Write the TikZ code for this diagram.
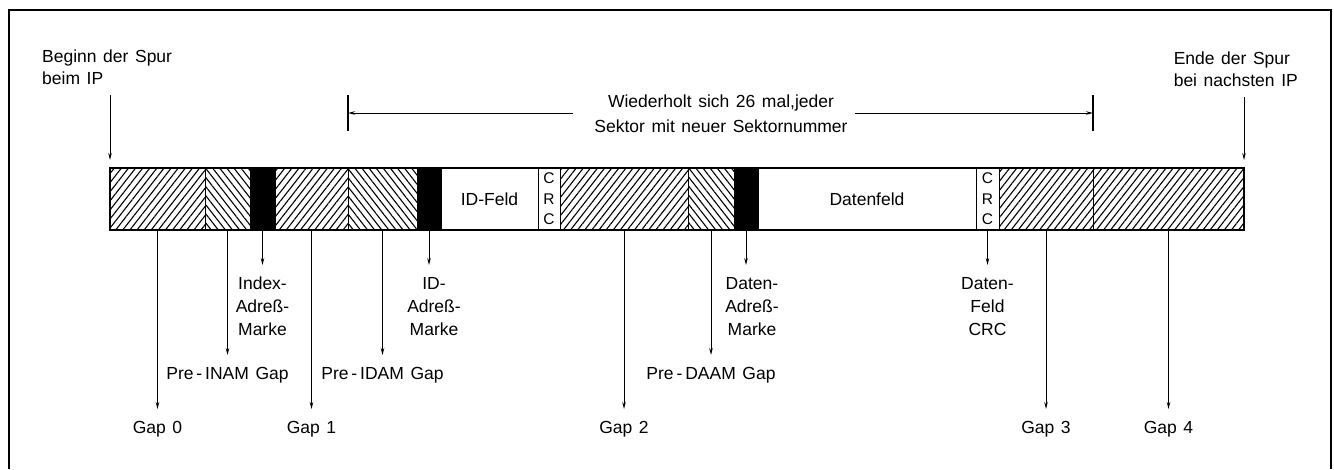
\documentclass[tikz,border=0pt]{standalone}
\usepackage{fontspec}
\setmainfont{Liberation Sans}[WordSpace=1.35]
\usetikzlibrary{patterns.meta,arrows.meta}
\begin{document}
\begin{tikzpicture}[x=1pt,y=-1pt,
  seg/.style={draw=black, line width=1pt, minimum height=62pt, inner sep=0pt, outer sep=0pt, anchor=north west},
  fwd/.style={seg, pattern={Lines[angle=52,distance=5.6pt,line width=1.1pt]}},
  bwd/.style={seg, pattern={Lines[angle=-52,distance=5.6pt,line width=1.1pt]}},
  blk/.style={seg, fill=black},
  wht/.style={seg, fill=white, font=\fontsize{17.5}{20}\selectfont},
  crc/.style={seg, fill=white, align=center, font=\fontsize{15.5}{20.5}\selectfont},
  lbl/.style={font=\fontsize{17.5}{23}\selectfont, inner sep=0pt, align=center, anchor=north},
  arr/.style={-{Stealth[length=7pt,width=3.5pt]}, line width=0.9pt},
  tick/.style={line width=1.4pt},
]
\useasboundingbox (0,0) rectangle (1334,469);
\draw[line width=1.6pt] (9,469) -- (9,10) -- (1331,10) -- (1331,469);

% track segments
\node[fwd, minimum width=95pt] (g0) at (110,168) {};
\node[bwd, minimum width=45pt] (pinam) at (g0.north east) {};
\node[blk, minimum width=25pt] (iam) at (pinam.north east) {};
\node[fwd, minimum width=73pt] (g1) at (iam.north east) {};
\node[bwd, minimum width=69pt] (pidam) at (g1.north east) {};
\node[blk, minimum width=24pt] (idam) at (pidam.north east) {};
\node[wht, minimum width=97pt] (idf) at (idam.north east) {ID-Feld};
\node[crc, minimum width=22pt] (crc1) at (idf.north east) {C\\R\\C};
\node[fwd, minimum width=128pt] (g2) at (crc1.north east) {};
\node[bwd, minimum width=46pt] (pdaam) at (g2.north east) {};
\node[blk, minimum width=24pt] (dam) at (pdaam.north east) {};
\node[wht, minimum width=218pt] (df) at (dam.north east) {Datenfeld};
\node[crc, minimum width=23pt] (crc2) at (df.north east) {C\\R\\C};
\node[fwd, minimum width=94pt] (g3) at (crc2.north east) {};
\node[fwd, minimum width=151pt] (g4) at (g3.north east) {};
\draw[line width=2pt] (g0.north west) rectangle (g4.south east);

% rows for labels
\coordinate (rowA) at (0,277);
\coordinate (rowB) at (0,367);
\coordinate (rowC) at (0,421);

% labels below
\node[lbl] (lgap0) at (g0.south |- rowC) {Gap 0};
\node[lbl] (lpinam) at (pinam.south |- rowB) {Pre\,-\,INAM Gap};
\node[lbl] (liam) at (iam.south |- rowA) {Index-\\Adreß-\\Marke};
\node[lbl] (lgap1) at (g1.south |- rowC) {Gap 1};
\node[lbl] (lpidam) at (pidam.south |- rowB) {Pre\,-\,IDAM Gap};
\node[lbl] (lidam) at ([xshift=5pt]idam.south |- rowA) {ID-\\Adreß-\\Marke};
\node[lbl] (lgap2) at (g2.south |- rowC) {Gap 2};
\node[lbl] (lpdaam) at (pdaam.south |- rowB) {Pre\,-\,DAAM Gap};
\node[lbl] (ldam) at ([xshift=6pt]dam.south |- rowA) {Daten-\\Adreß-\\Marke};
\node[lbl] (lcrc2) at (crc2.south |- rowA) {Daten-\\Feld\\CRC};
\node[lbl] (lgap3) at (g3.south |- rowC) {Gap 3};
\node[lbl] (lgap4) at (g4.south |- rowC) {Gap 4};

\foreach \s/\l in {g0/lgap0, pinam/lpinam, iam/liam, g1/lgap1, pidam/lpidam, g2/lgap2, pdaam/lpdaam, g3/lgap3, g4/lgap4, crc2/lcrc2}{
  \draw[arr, shorten >=12pt] (\s.south) -- (\s.south |- \l.north);
}
\draw[arr, shorten >=12pt] (idam.south) -- (idam.south |- lidam.north);
\draw[arr, shorten >=12pt] (dam.south) -- (dam.south |- ldam.north);

% top labels
\node[lbl, anchor=north west, align=left, font=\fontsize{17.5}{22}\selectfont] (begin) at (42,50) {Beginn der Spur\\beim IP};
\node[lbl, anchor=north east, align=left, font=\fontsize{17.5}{22}\selectfont] (end) at (1298,52) {Ende der Spur\\bei nachsten IP};
\coordinate (bstart) at (110,95);
\coordinate (estart) at (1244,97);
\draw[arr, shorten >=8pt] (bstart) -- (g0.north west);
\draw[arr, shorten >=8pt] (estart) -- (g4.north east);

% repetition dimension
\coordinate (tlt) at (pidam.north west |- 0,95);
\coordinate (tlb) at (pidam.north west |- 0,131);
\coordinate (trt) at (g4.north west |- 0,95);
\coordinate (trb) at (g4.north west |- 0,131);
\draw[tick] (tlt) -- (tlb);
\draw[tick] (trt) -- (trb);
\coordinate (dl) at (pidam.north west |- 0,113);
\coordinate (dr) at (g4.north west |- 0,113);
\coordinate (dml) at (573,113);
\coordinate (dmr) at (855,113);
\draw[arr] (dml) -- (dl);
\draw[arr] (dmr) -- (dr);
\node[lbl, anchor=center, font=\fontsize{17.5}{25}\selectfont] (span) at (721,114) {Wiederholt sich 26 mal,jeder\\Sektor mit neuer Sektornummer};
\end{tikzpicture}
\end{document}
